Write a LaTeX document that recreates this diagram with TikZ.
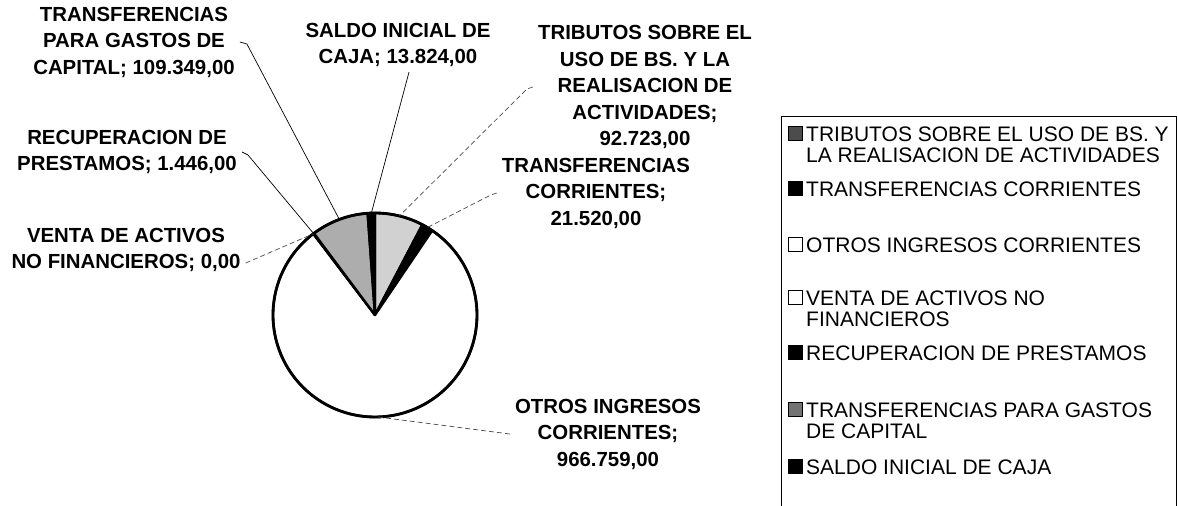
\documentclass[tikz,border=0pt]{standalone}
\usepackage{fontspec}
\setmainfont{Liberation Sans}
\usepackage{tikz}
\usetikzlibrary{calc,positioning}
\tikzset{
	slice/.style={draw=black,line width=2.4pt,line join=round},
	lbl/.style={align=center,inner sep=5pt,font=\bfseries\fontsize{20.4}{26.5}\selectfont},
	leader/.style={line width=0.7pt},
	leaderdash/.style={leader,dash pattern=on 5pt off 3pt,black!70},
	legtext/.style={align=left,anchor=north west,inner sep=0pt,font=\fontsize{21}{20.5}\selectfont},
	legmark/.style={draw=black,line width=0.8pt,minimum size=14pt,inner sep=0pt,anchor=north east},
}

\begin{document}
\begin{tikzpicture}[x=1pt,y=1pt]
	\useasboundingbox (0,0) rectangle (1178,506);
	
	% pie centre and radius
	\def\r{102}
	\coordinate (c) at (375,191);
	
	% slices, clockwise from twelve o'clock
	\filldraw[slice,fill=black!18] (c) -- ($(c)+(90:\r)$) arc[start angle=90,end angle=62.31,radius=\r pt] -- cycle;
	\filldraw[slice,fill=black] (c) -- ($(c)+(62.31:\r)$) arc[start angle=62.31,end angle=55.89,radius=\r pt] -- cycle;
	\filldraw[slice,fill=white] (c) -- ($(c)+(55.89:\r)$) arc[start angle=55.89,end angle=-232.79,radius=\r pt] -- cycle;
	\filldraw[slice,fill=black] (c) -- ($(c)+(-232.79:\r)$) arc[start angle=-232.79,end angle=-233.22,radius=\r pt] -- cycle;
	\filldraw[slice,fill=black!32] (c) -- ($(c)+(-233.22:\r)$) arc[start angle=-233.22,end angle=-265.87,radius=\r pt] -- cycle;
	\filldraw[slice,fill=black] (c) -- ($(c)+(-265.87:\r)$) arc[start angle=-265.87,end angle=-270,radius=\r pt] -- cycle;
	\draw[line width=2.8pt] (c) circle[radius=\r pt];
	
	% points on the rim where the leaders end
	\coordinate (ptrib) at ($(c)+(76.16:\r)$);
	\coordinate (pcorr) at ($(c)+(59.10:\r)$);
	\coordinate (potros) at ($(c)+(-88.45:\r)$);
	\coordinate (pventa) at ($(c)+(127.21:\r)$);
	\coordinate (precup) at ($(c)+(127.00:\r)$);
	\coordinate (pcap) at ($(c)+(110.45:\r)$);
	\coordinate (psaldo) at ($(c)+(92.06:\r)$);
	
	% data labels
	\node[lbl] (lcap) at (134,464) {TRANSFERENCIAS\\PARA GASTOS DE\\CAPITAL; 109.349,00};
	\node[lbl] (lsaldo) at (398,461) {SALDO INICIAL DE\\CAJA; 13.824,00};
	\node[lbl] (ltrib) at (645,419) {TRIBUTOS SOBRE EL\\USO DE BS. Y LA\\REALISACION DE\\ACTIVIDADES;\\92.723,00};
	\node[lbl] (lcorr) at (596,313) {TRANSFERENCIAS\\CORRIENTES;\\21.520,00};
	\node[lbl] (lrecup) at (127,354) {RECUPERACION DE\\PRESTAMOS; 1.446,00};
	\node[lbl] (lventa) at (126,256) {VENTA DE ACTIVOS\\NO FINANCIEROS; 0,00};
	\node[lbl] (lotros) at (608,72) {OTROS INGRESOS\\CORRIENTES;\\966.759,00};
	
	% leader lines
	\draw[leader] (lcap.east) -- ++(7,-2) -- (pcap);
	\draw[leader] ([xshift=11pt]lsaldo.south) -- (psaldo);
	\draw[leaderdash] (ltrib.west) -- ++(-6,-2) -- (ptrib);
	\draw[leaderdash] (lcorr.west) -- ++(-6,-2) -- (pcorr);
	\draw[leader] (lrecup.east) -- ++(6,-3) -- (precup);
	\draw[leaderdash] ([yshift=-13pt]lventa.east) -- (pventa);
	\draw[leaderdash] (lotros.west) -- (potros);
	
	% legend
	\draw[line width=0.9pt] (781,390) rectangle (1176,-5);
	\node[legtext] (t1) at (806,379) {TRIBUTOS SOBRE EL USO DE BS. Y\\LA REALISACION DE ACTIVIDADES};
	\node[legtext] (t2) at (806,324) {TRANSFERENCIAS CORRIENTES};
	\node[legtext] (t3) at (806,268) {OTROS INGRESOS CORRIENTES};
	\node[legtext] (t4) at (806,215) {VENTA DE ACTIVOS NO\\FINANCIEROS};
	\node[legtext] (t5) at (806,160) {RECUPERACION DE PRESTAMOS};
	\node[legtext] (t6) at (806,103) {TRANSFERENCIAS PARA GASTOS\\DE CAPITAL};
	\node[legtext] (t7) at (806,46) {SALDO INICIAL DE CAJA};
	\node[legmark,fill=black!70] (m1) at ([xshift=-3pt,yshift=1pt]t1.north west) {};
	\node[legmark,fill=black] (m2) at ([xshift=-3pt,yshift=1pt]t2.north west) {};
	\node[legmark,fill=white] (m3) at ([xshift=-3pt,yshift=1pt]t3.north west) {};
	\node[legmark,fill=white] (m4) at ([xshift=-3pt,yshift=1pt]t4.north west) {};
	\node[legmark,fill=black] (m5) at ([xshift=-3pt,yshift=1pt]t5.north west) {};
	\node[legmark,fill=black!55] (m6) at ([xshift=-3pt,yshift=1pt]t6.north west) {};
	\node[legmark,fill=black] (m7) at ([xshift=-3pt,yshift=1pt]t7.north west) {};
	
\end{tikzpicture}
\end{document}
